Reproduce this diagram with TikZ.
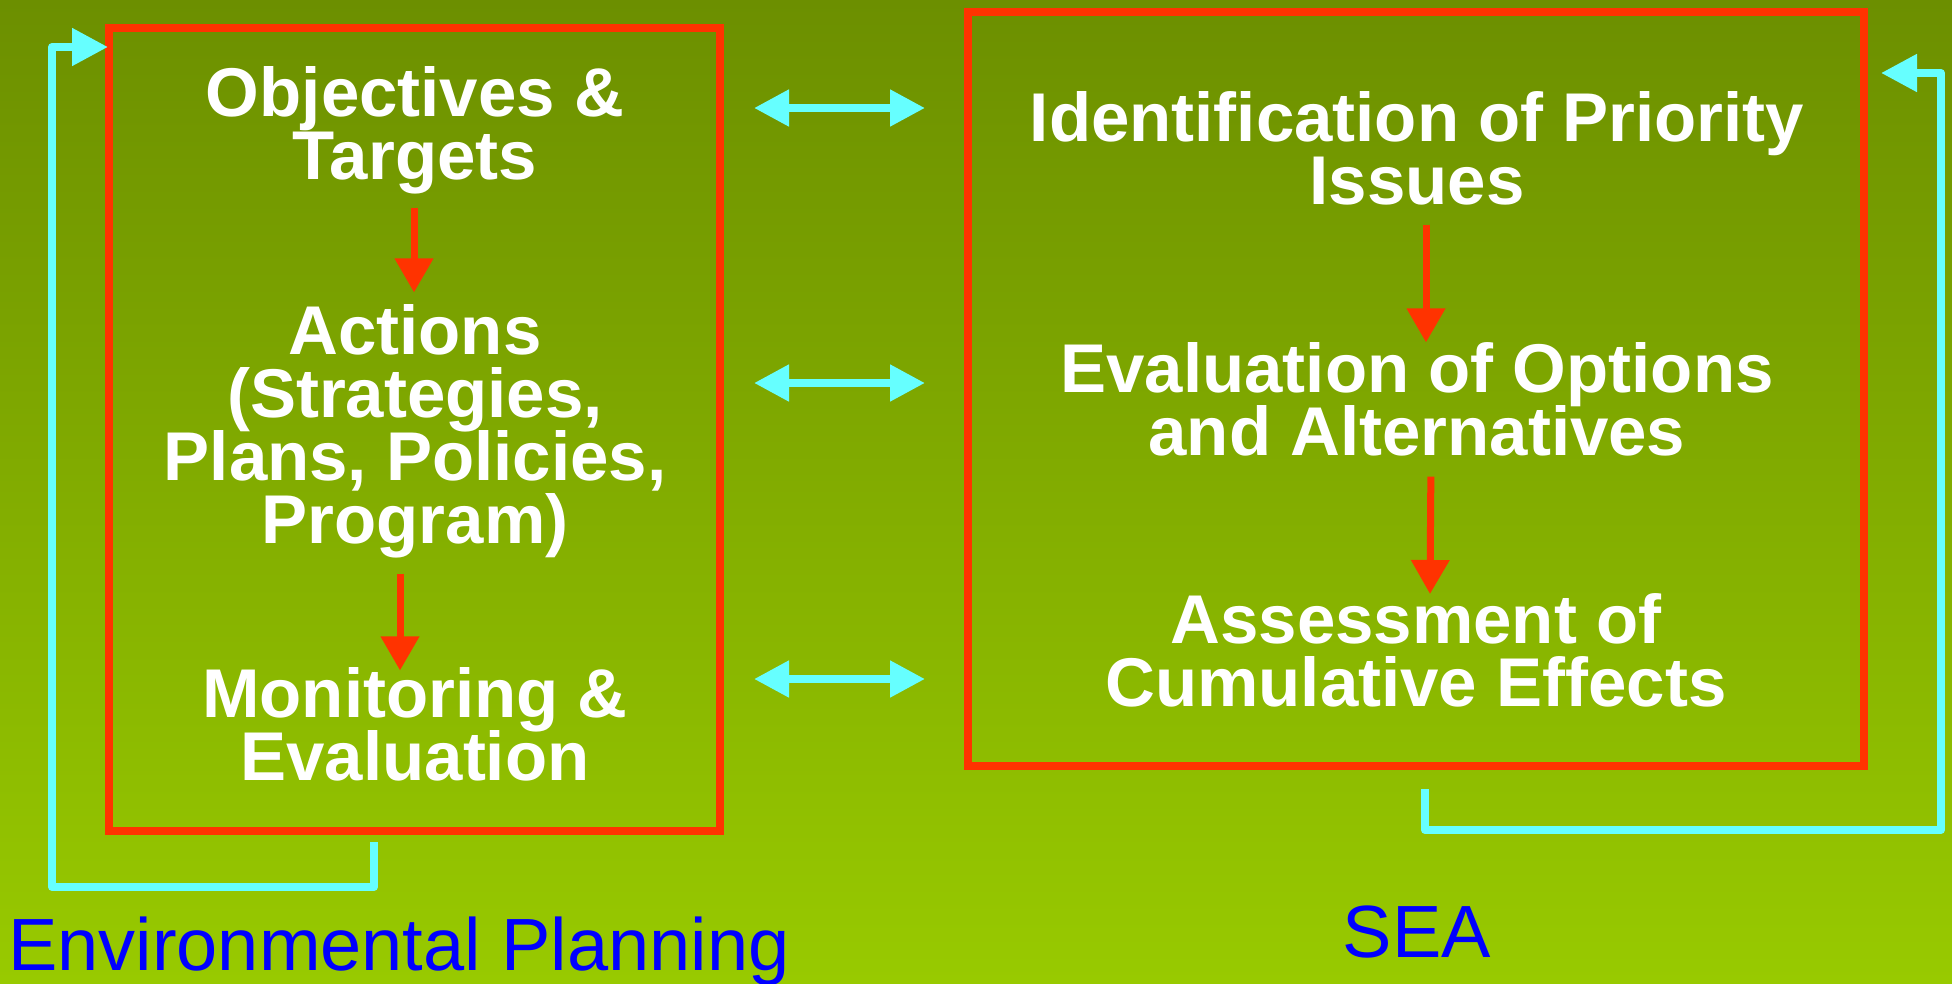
\documentclass[tikz,border=0pt]{standalone}
\usepackage{fontspec}
\setmainfont{Liberation Sans}
\usetikzlibrary{arrows.meta,calc}
\definecolor{bgtop}{RGB}{108,143,0}
\definecolor{bgbot}{RGB}{152,202,0}
\definecolor{redc}{RGB}{255,51,0}
\definecolor{cyanc}{RGB}{102,255,255}
\definecolor{bluec}{RGB}{0,0,255}
\begin{document}
\lineskiplimit=-200pt
\begin{tikzpicture}[x=1pt,y=-1pt,
 boxtext/.style={text=white, font=\fontsize{69}{63}\selectfont\bfseries, align=center, inner sep=0pt},
 redbox/.style={draw=redc, line width=8pt, inner sep=0pt},
 flow/.style={draw=redc, line width=7pt, -{Triangle[length=34pt,width=37pt]}},
 link/.style={draw=cyanc, line width=8pt, {Triangle[length=35pt,width=35pt]}-{Triangle[length=35pt,width=35pt]}},
 loopback/.style={draw=cyanc, line width=8pt, line join=round, -{Triangle[length=36pt,width=36pt]}},
 caption/.style={text=bluec, font=\fontsize{74}{80}\selectfont, inner sep=0pt}]
\useasboundingbox (0,0) rectangle (1952,983);
\shade[top color=bgtop, bottom color=bgbot] (0,0) rectangle (1952,983);

\node[redbox, minimum width=611pt, minimum height=803pt] (envbox) at (414.5,429.5) {};
\node[redbox, minimum width=896pt, minimum height=754pt] (seabox) at (1416,389) {};

\node[boxtext] (obj) at (415,130.5) {Objectives \&\\Targets};
\node[boxtext] (act) at (415,431.5) {Actions\\(Strategies,\\Plans, Policies,\\Program)};
\node[boxtext] (mon) at (415,724.5) {Monitoring \&\\Evaluation};
\node[boxtext] (idp) at (1417,148.5) {Identification of Priority\\Issues};
\node[boxtext] (eva) at (1417,399.5) {Evaluation of Options\\and Alternatives};
\node[boxtext] (ass) at (1416,650) {Assessment of\\Cumulative Effects};

\draw[flow, shorten <=13pt, shorten >=12pt] ([xshift=-1pt]obj.south) -- ([xshift=-1pt]act.north);
\draw[flow, shorten <=15pt, shorten >=-3pt] ([xshift=-15pt]act.south) -- ([xshift=-15pt]mon.north);
\draw[flow, shorten <=19pt, shorten >=0pt] ([xshift=9pt]idp.south) -- ([xshift=9pt]eva.north);
\draw[flow, shorten <=20pt, shorten >=-1pt] ([xshift=14pt]eva.south) -- ([xshift=14pt]ass.north);

\draw[link, shorten <=30pt, shorten >=39pt] (envbox.east |- 0,108) -- (seabox.west |- 0,108);
\draw[link, shorten <=30pt, shorten >=39pt] (envbox.east |- 0,383) -- (seabox.west |- 0,383);
\draw[link, shorten <=30pt, shorten >=39pt] (envbox.east |- 0,679) -- (seabox.west |- 0,679);

\draw[loopback, shorten >=-3pt] ($(envbox.south)+(-40.5,7)$) -- ++(0,45) -| (52,47) -- (envbox.west |- 0,47);
\draw[loopback, shorten >=13pt] ($(seabox.south)+(9,19)$) -- ++(0,41) -| (1941,73) -- (seabox.east |- 0,73);

\node[caption, anchor=base west] (eplabel) at (8,970) {Environmental Planning};
\node[caption, anchor=base] (sealabel) at (1417,957) {SEA};
\end{tikzpicture}
\end{document}
